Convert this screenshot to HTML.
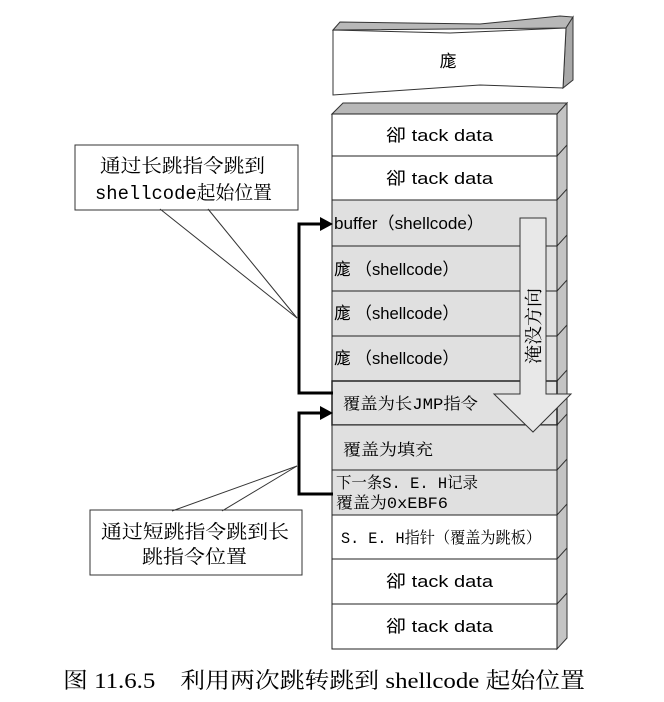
<!DOCTYPE html>
<html><head><meta charset="utf-8"><style>
body{margin:0;background:#fff;width:664px;height:702px;overflow:hidden}
svg{display:block}
.s{font-family:"Liberation Sans","Noto Sans CJK SC",sans-serif;font-size:17px}
.m{font-family:"Liberation Mono","Noto Serif CJK SC",serif;font-size:16px}
.c{font-family:"Liberation Mono","Noto Serif CJK SC",serif;font-size:19px}
</style></head><body>
<svg width="664" height="702" viewBox="0 0 664 702">
<polygon points="333,30 340,22 480,24 560,16 573,17 566,28" fill="#b8b8b8" stroke="#333" stroke-width="1"/>
<polygon points="566,28 573,17 573,80 563,88" fill="#a8a8a8" stroke="#333" stroke-width="1"/>
<path d="M333,30 L450,33 L566,28 L563,88 L480,85 L333,95 Z" fill="#fff" stroke="#333" stroke-width="1"/>
<text x="448" y="67" class="s" text-anchor="middle">庬</text>
<polygon points="332,114 343,103 567,103 557,114" fill="#b8b8b8" stroke="#333"/>
<polygon points="557,114 567,103 567,638 557,649" fill="#c4c4c4" stroke="#333"/>
<g stroke="#333" stroke-width="1">
<line x1="557" y1="156" x2="567" y2="145"/><line x1="557" y1="200" x2="567" y2="189"/>
<line x1="557" y1="246" x2="567" y2="235"/><line x1="557" y1="291" x2="567" y2="280"/>
<line x1="557" y1="336" x2="567" y2="325"/><line x1="557" y1="381" x2="567" y2="370"/>
<line x1="557" y1="425" x2="567" y2="414"/><line x1="557" y1="470" x2="567" y2="459"/>
<line x1="557" y1="515" x2="567" y2="504"/><line x1="557" y1="559" x2="567" y2="548"/>
<line x1="557" y1="604" x2="567" y2="593"/>
</g>
<g stroke="#222" stroke-width="1">
<rect x="332" y="114" width="225" height="42" fill="#fff"/>
<rect x="332" y="156" width="225" height="44" fill="#fff"/>
<rect x="332" y="200" width="225" height="46" fill="#e0e0e0"/>
<rect x="332" y="246" width="225" height="45" fill="#e0e0e0"/>
<rect x="332" y="291" width="225" height="45" fill="#e0e0e0"/>
<rect x="332" y="336" width="225" height="45" fill="#e0e0e0"/>
<rect x="332" y="381" width="225" height="44" fill="#e0e0e0" stroke-width="1.5"/>
<rect x="332" y="425" width="225" height="45" fill="#e0e0e0"/>
<rect x="332" y="470" width="225" height="45" fill="#e0e0e0"/>
<rect x="332" y="515" width="225" height="44" fill="#fff"/>
<rect x="332" y="559" width="225" height="45" fill="#fff"/>
<rect x="332" y="604" width="225" height="45" fill="#fff"/>
</g>
<g class="s" fill="#000">
<text x="386" y="141" textLength="107" lengthAdjust="spacingAndGlyphs">卻 tack data</text>
<text x="386" y="184" textLength="107" lengthAdjust="spacingAndGlyphs">卻 tack data</text>
<text x="334" y="229" textLength="150" lengthAdjust="spacingAndGlyphs">buffer（shellcode）</text>
<text x="334" y="275" textLength="125" lengthAdjust="spacingAndGlyphs">庬 （shellcode）</text>
<text x="334" y="319" textLength="125" lengthAdjust="spacingAndGlyphs">庬 （shellcode）</text>
<text x="334" y="364" textLength="125" lengthAdjust="spacingAndGlyphs">庬 （shellcode）</text>
<text x="386" y="587" textLength="107" lengthAdjust="spacingAndGlyphs">卻 tack data</text>
<text x="386" y="632" textLength="107" lengthAdjust="spacingAndGlyphs">卻 tack data</text>
</g>
<g class="m" fill="#000">
<text x="343" y="409" textLength="135" lengthAdjust="spacingAndGlyphs">覆盖为长JMP指令</text>
<text x="343" y="455" textLength="90" lengthAdjust="spacingAndGlyphs">覆盖为填充</text>
<text x="336" y="488" textLength="142" lengthAdjust="spacingAndGlyphs">下一条S. E. H记录</text>
<text x="336" y="508" textLength="112" lengthAdjust="spacingAndGlyphs">覆盖为0xEBF6</text>
<text x="341" y="543" textLength="200" lengthAdjust="spacingAndGlyphs">S. E. H指针（覆盖为跳板）</text>
</g>
<polygon points="520,218 546,218 546,394 571,394 533,432 494,394 520,394" fill="#e8e8e8" stroke="#333"/>
<text class="m" transform="translate(540,326) rotate(-90)" text-anchor="middle" style="font-size:18px" textLength="76" lengthAdjust="spacingAndGlyphs">淹没方向</text>
<g stroke="#000" stroke-width="3" fill="none">
<polyline points="333,393 299,393 299,224 322,224"/>
<polyline points="333,494 299,494 299,413 322,413"/>
</g>
<polygon points="320,217 333,224 320,231" fill="#000"/>
<polygon points="320,406 333,413 320,420" fill="#000"/>
<rect x="75" y="145" width="223" height="65" fill="#fff" stroke="#333"/>
<g stroke="#333" fill="none"><line x1="160" y1="209" x2="297" y2="318"/><line x1="208" y1="209" x2="297" y2="318"/></g>
<text x="100" y="172" class="c" textLength="165" lengthAdjust="spacingAndGlyphs">通过长跳指令跳到</text>
<text x="95" y="199" class="c" textLength="177" lengthAdjust="spacingAndGlyphs">shellcode起始位置</text>
<rect x="90" y="510" width="212" height="65" fill="#fff" stroke="#333"/>
<g stroke="#333" fill="none"><line x1="172" y1="511" x2="297" y2="466"/><line x1="222" y1="511" x2="297" y2="466"/></g>
<text x="101" y="538" class="c" textLength="188" lengthAdjust="spacingAndGlyphs">通过短跳指令跳到长</text>
<text x="142" y="563" class="c" textLength="105" lengthAdjust="spacingAndGlyphs">跳指令位置</text>
<text x="63" y="688" font-family="'Liberation Serif','Noto Serif CJK SC',serif" font-size="22" textLength="522" lengthAdjust="spacingAndGlyphs">图 11.6.5　利用两次跳转跳到 shellcode 起始位置</text>
</svg>
</body></html>
